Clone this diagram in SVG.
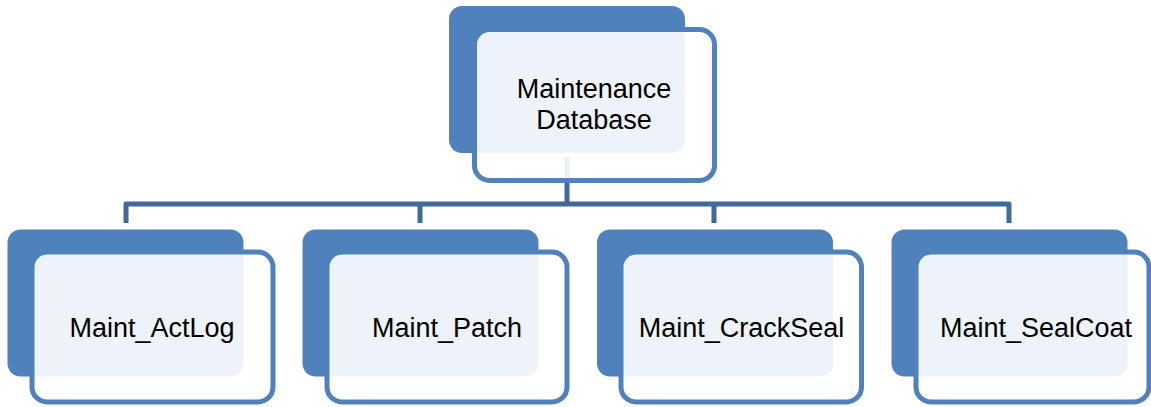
<svg xmlns="http://www.w3.org/2000/svg" width="1151" height="407" viewBox="0 0 1151 407">
  <style>
    .back { fill: #4F81BD; }
    .front { fill: #FFFFFF; fill-opacity: 0.9; stroke: #4F81BD; stroke-width: 5; }
    .conn { fill: none; stroke: #41699C; stroke-width: 5; stroke-linejoin: round; }
    .lbl { font-family: "Liberation Sans", Arial, sans-serif; font-size: 27px; fill: #000000; text-anchor: middle; }
  </style>
  <rect width="1151" height="407" fill="#FFFFFF"/>
  <g id="connectors">
    <path class="conn" d="M567,157 V204"/>
    <path class="conn" d="M126,223 V204 H1009 V223"/>
    <path class="conn" d="M420,204 V223"/>
    <path class="conn" d="M714,204 V223"/>
  </g>
  <g id="node-maintenance-database">
    <rect class="back" x="449" y="6" width="236" height="147" rx="13"/>
    <rect class="front" x="474.5" y="29.5" width="240" height="151" rx="15"/>
    <text class="lbl" x="594" y="98">Maintenance</text>
    <text class="lbl" x="594" y="129">Database</text>
  </g>
  <g id="node-maint-actlog">
    <rect class="back" x="7.5" y="229.5" width="236" height="147" rx="13"/>
    <rect class="front" x="32" y="252" width="241" height="150" rx="15"/>
    <text class="lbl" x="152" y="337">Maint_ActLog</text>
  </g>
  <g id="node-maint-patch">
    <rect class="back" x="302.5" y="229.5" width="236" height="147" rx="13"/>
    <rect class="front" x="327" y="252" width="240" height="150" rx="15"/>
    <text class="lbl" x="447" y="337">Maint_Patch</text>
  </g>
  <g id="node-maint-crackseal">
    <rect class="back" x="597" y="229.5" width="236" height="147" rx="13"/>
    <rect class="front" x="621" y="252" width="240.5" height="150" rx="15"/>
    <text class="lbl" x="741.5" y="337">Maint_CrackSeal</text>
  </g>
  <g id="node-maint-sealcoat">
    <rect class="back" x="891.5" y="229.5" width="236" height="147" rx="13"/>
    <rect class="front" x="916" y="252" width="233" height="150" rx="15"/>
    <text class="lbl" x="1036" y="337">Maint_SealCoat</text>
  </g>
</svg>
